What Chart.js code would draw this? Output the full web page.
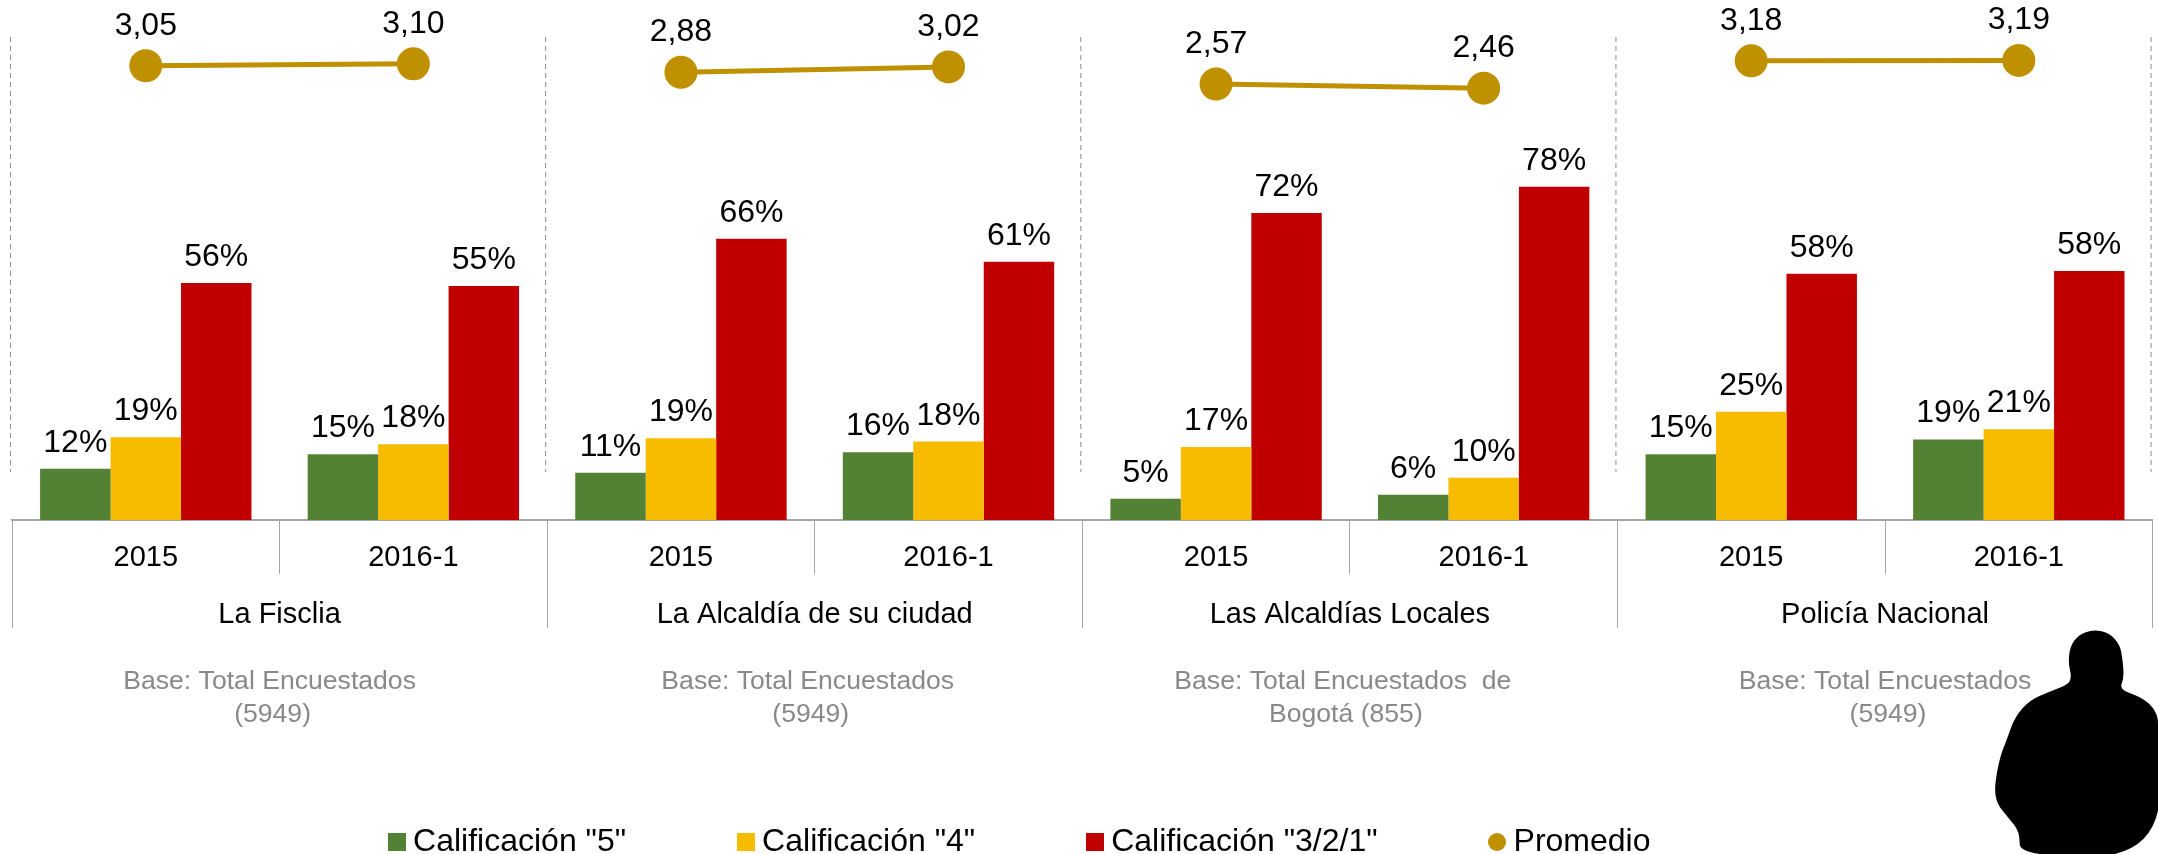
<!DOCTYPE html>
<html><head><meta charset="utf-8">
<style>html,body{margin:0;padding:0;background:#fff}#w{width:2158px;height:854px}</style>
<script src="https://cdn.jsdelivr.net/npm/chart.js@4/dist/chart.umd.min.js"></script>
</head><body><div id="w"><canvas id="c" width="2158" height="854"></canvas></div>
<script>
const years = ['2015','2016-1','2015','2016-1','2015','2016-1','2015','2016-1'];
const groups = ['La Fisclia','La Alcaldía de su ciudad','Las Alcaldías Locales','Policía Nacional'];
const cal5 = [12.0,15.4,11.1,15.9,5.0,5.9,15.4,18.9];
const cal4 = [19.4,17.8,19.2,18.4,17.1,9.9,25.4,21.3];
const cal321 = [55.6,54.9,66.0,60.6,72.0,78.2,57.8,58.4];
const promedio = [3.05,3.10,2.88,3.02,2.57,2.46,3.18,3.19];
const baseNotes = [['Base: Total Encuestados','(5949)'],['Base: Total Encuestados','(5949)'],['Base: Total Encuestados  de','Bogotá (855)'],['Base: Total Encuestados','(5949)']];
const seriesNames = ['Calificación "5"','Calificación "4"','Calificación "3/2/1"','Promedio'];
const GREEN='#548235',YELLOW='#F7BC00',RED='#C00000',GOLD='#BF9000',FONT='"Liberation Sans", Arial, sans-serif';

function swatch(color,round){
  const k=document.createElement('canvas');k.width=18;k.height=18;const g=k.getContext('2d');g.fillStyle=color;
  if(round){g.beginPath();g.arc(9,9,9,0,Math.PI*2);g.fill();}else g.fillRect(0,0,18,18);
  return k;
}
const labelsPlugin={id:'valueLabels',afterDatasetsDraw(ch){
  const c=ch.ctx;c.save();c.fillStyle='#000';c.font='32px '+FONT;c.textAlign='center';c.textBaseline='alphabetic';
  ch.data.datasets.forEach((d,i)=>{
    ch.getDatasetMeta(i).data.forEach((el,j)=>{
      const v=d.data[j];
      if(d.type==='line') c.fillText(v.toFixed(2).replace('.',','),el.x,el.y-31);
      else c.fillText(Math.round(v)+'%',el.x,el.y-17);
    });
  });
  c.restore();
}};
const decorPlugin={id:'decor',
 beforeElementsUpdate(ch){ch.data.datasets.forEach((d,i)=>{const m=ch.getDatasetMeta(i);if(m.controller)m.controller.getMaxOverflow=()=>0;});},
 afterLayout(ch){const l=ch.legend;l.left-=59;l.right-=59;l.top+=16;l.bottom+=16;},
 afterDraw(ch){
  const c=ch.ctx,x=ch.scales.x,w=x.width/years.length;
  c.save();
  c.strokeStyle='#8C8C8C';c.lineWidth=1;c.setLineDash([5,4]);
  for(let i=0;i<=groups.length;i++){const px=x.left+i*2*w-1.5;c.beginPath();c.moveTo(px,37);c.lineTo(px,472);c.stroke();}
  c.setLineDash([]);
  c.fillStyle='#898989';c.font='26.6px '+FONT;c.textAlign='center';c.textBaseline='middle';
  const shift=[-10,-7,-7,0];
  baseNotes.forEach((n,i)=>{const px=x.left+(i*2+1)*w+shift[i];n.forEach((t,l)=>c.fillText(t,px+(l?3:0),682+l*33));});
  const P=[[580,88],[630,100],[660,135],[668,180],[672,235],[658,268],[720,290],[760,320],[780,370],[780,770],[358,770],[360,695],[322,650],[290,610],[283,560],[300,470],[320,420],[345,350],[390,300],[450,275],[508,252],[514,225],[505,190],[510,140],[535,105]]
    .map(p=>[1900+p[0]/3,600+p[1]/3]);
  c.fillStyle='#000';c.beginPath();
  const m=(a,b)=>[(a[0]+b[0])/2,(a[1]+b[1])/2];
  let s=m(P[P.length-1],P[0]);c.moveTo(s[0],s[1]);
  P.forEach((p,i)=>{const e=m(p,P[(i+1)%P.length]);c.quadraticCurveTo(p[0],p[1],e[0],e[1]);});
  c.closePath();c.fill();c.restore();
}};
const bar=(label,data,color)=>({type:'bar',label,data,backgroundColor:color,barPercentage:1,categoryPercentage:0.79,yAxisID:'y',order:2});
new Chart(document.getElementById('c'),{
  data:{labels:years,datasets:[
    bar(seriesNames[0],cal5,GREEN),bar(seriesNames[1],cal4,YELLOW),bar(seriesNames[2],cal321,RED),
    {type:'line',label:seriesNames[3],data:promedio,yAxisID:'y2',order:1,borderColor:GOLD,backgroundColor:GOLD,borderWidth:5,pointRadius:14,pointHoverRadius:14,pointBackgroundColor:GOLD,pointBorderColor:GOLD,
     tension:0,segment:{borderColor:c=>c.p0DataIndex%2?'transparent':GOLD}}
  ]},
  options:{responsive:false,animation:false,
    layout:{padding:{left:12,right:5.4,top:0,bottom:2}},
    plugins:{tooltip:{enabled:false},title:{display:false},
      legend:{position:'bottom',align:'center',labels:{usePointStyle:true,pointStyleWidth:1,boxHeight:18,padding:119,color:'#000',font:{family:FONT,size:32},
        generateLabels:ch=>ch.data.datasets.map((d,i)=>({text:d.label,datasetIndex:i,fontColor:'#000',lineWidth:0,strokeStyle:'transparent',fillStyle:d.backgroundColor,pointStyle:swatch(d.backgroundColor,d.type==='line')}))
      }}},
    scales:{
      x:{type:'category',position:'bottom',offset:true,labels:years,
        grid:{display:true,offset:true,drawOnChartArea:false,drawTicks:true,tickLength:54,tickColor:'#A6A6A6',lineWidth:1},
        border:{display:true,color:'#A6A6A6',width:2},
        ticks:{padding:-33,color:'#000',font:{family:FONT,size:29},maxRotation:0,autoSkip:false},
        afterFit(s){s.height=54;s.paddingLeft=0;s.paddingRight=0;}},
      x2:{type:'category',position:'bottom',offset:true,labels:groups,
        grid:{display:true,offset:true,drawOnChartArea:false,drawTicks:true,tickLength:54,tickColor:'#A6A6A6',lineWidth:1},
        border:{display:false},
        ticks:{padding:-30,color:'#000',font:{family:FONT,size:29},maxRotation:0,autoSkip:false},
        afterFit(s){s.height=117;s.paddingLeft=0;s.paddingRight=0;}},
      y:{display:false,min:0,max:122,grid:{display:false}},
      y2:{display:false,min:-8.9,max:4.78,grid:{display:false}}
    }
  },
  plugins:[labelsPlugin,decorPlugin]
});
</script></body></html>
